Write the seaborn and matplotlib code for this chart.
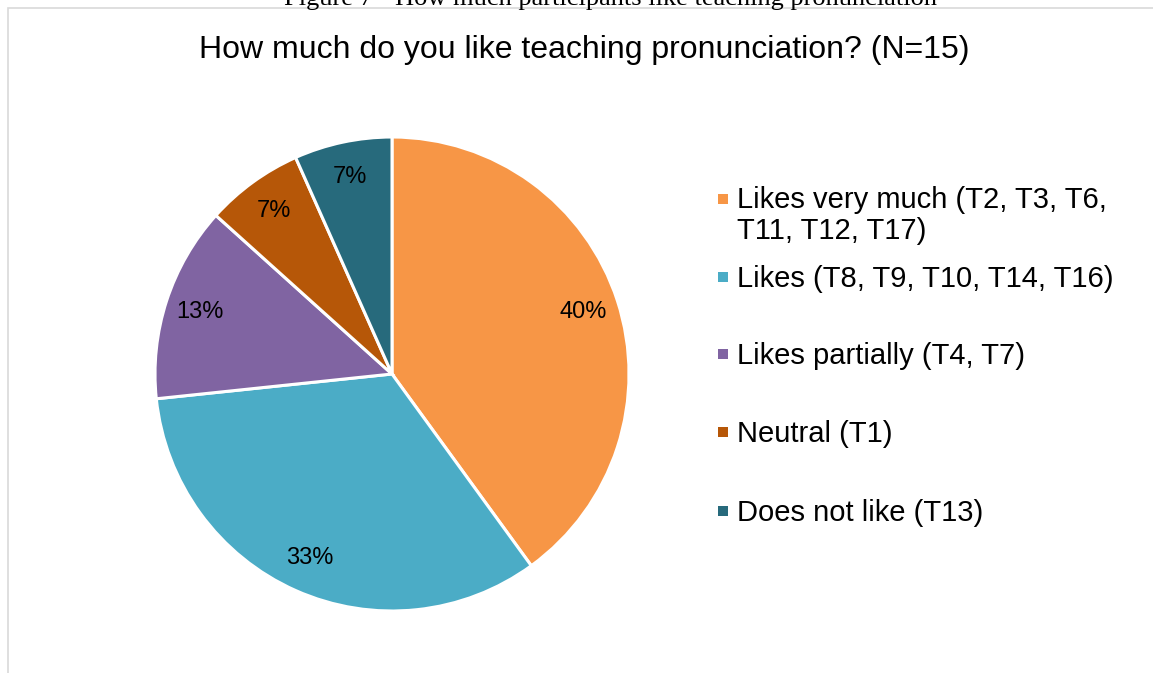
import matplotlib
matplotlib.use("Agg")
import matplotlib.pyplot as plt
from matplotlib.patches import Rectangle
import seaborn as sns

# Survey responses (number of teachers, N=15)
categories = [
    "Likes very much (T2, T3, T6,\nT11, T12, T17)",
    "Likes (T8, T9, T10, T14, T16)",
    "Likes partially (T4, T7)",
    "Neutral (T1)",
    "Does not like (T13)",
]
counts = [6, 5, 2, 1, 1]
colors = ["#F79646", "#4BACC6", "#8064A2", "#B65708", "#276A7C"]

title = "How much do you like teaching pronunciation? (N=15)"
caption = "Figure 7 - How much participants like teaching pronunciation"

sns.set_theme(style="white")
plt.rcParams["font.family"] = ["Liberation Sans", "DejaVu Sans"]

W, H = 1153, 673
fig = plt.figure(figsize=(W / 100, H / 100), dpi=100)
fig.patch.set_facecolor("white")


def fx(px):
    return px / W


def fy(py):
    return 1 - py / H


# chart frame (light grey border running off the page)
fig.add_artist(Rectangle((fx(8), fy(700)), fx(1200) - fx(8), fy(8) - fy(700),
                         transform=fig.transFigure, fill=False,
                         edgecolor="#D9D9D9", linewidth=1.2))

# document caption above the chart
fig.text(fx(611), fy(5), caption, ha="center", va="baseline",
         family=["Liberation Serif", "DejaVu Serif"], fontsize=19, color="black")

fig.text(fx(584), fy(58), title, ha="center", va="baseline",
         fontsize=23, color="black")

# pie
cx, cy, r = 392, 374, 237
ax = fig.add_axes([fx(cx - r), fy(cy + r), (2 * r) / W, (2 * r) / H])
ax.pie(counts, colors=colors, startangle=90, counterclock=False,
       autopct=lambda p: f"{p:.0f}%", pctdistance=0.85,
       wedgeprops=dict(edgecolor="white", linewidth=2.2),
       textprops=dict(fontsize=17, color="black"))
ax.set_xlim(-1, 1)
ax.set_ylim(-1, 1)
ax.set_aspect("equal")
ax.axis("off")

# legend
legend_y = [198.5, 277, 354, 432, 511]
for label, color, y in zip(categories, colors, legend_y):
    fig.add_artist(Rectangle((fx(718), fy(y + 5)), 10 / W, 10 / H,
                             transform=fig.transFigure, facecolor=color,
                             edgecolor="none"))
    fig.text(fx(737), fy(y - 12), label, ha="left", va="top",
             fontsize=21, color="black", linespacing=1.1)

fig.savefig("out.png", dpi=100, facecolor="white")
